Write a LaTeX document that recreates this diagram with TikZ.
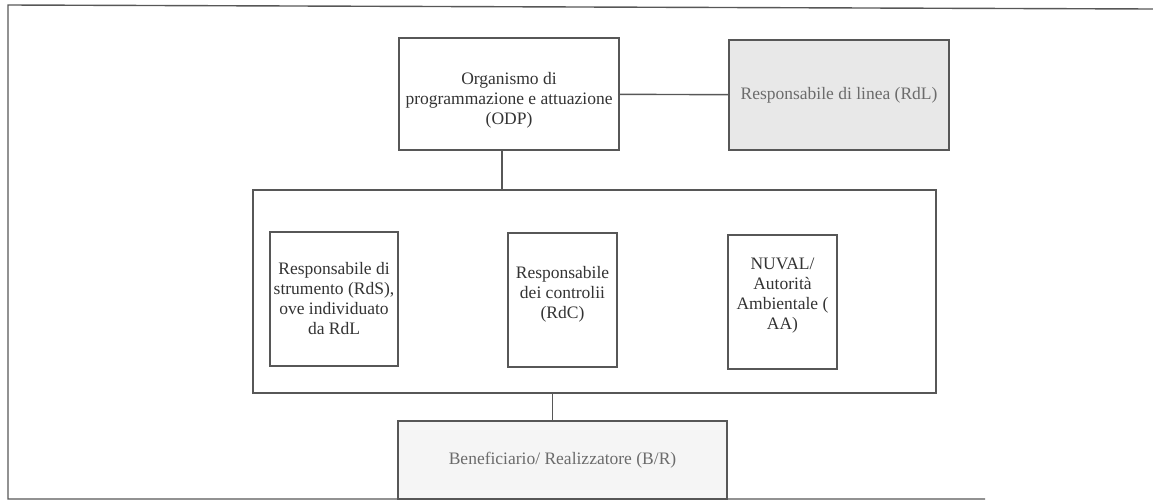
\documentclass[tikz,border=0pt]{standalone}
\usepackage{fontspec}
\setmainfont{Liberation Serif}
\begin{document}
\begin{tikzpicture}[x=1pt,y=-1pt,
  line/.style={draw=black!66, line width=1.4pt},
  unit/.style={line, rectangle, inner sep=2pt, align=center, text=black!80,
    font=\fontsize{17.5}{20}\selectfont},
  shaded/.style={unit, fill=black!9, text=black!58},
  pale/.style={unit, fill=black!4, text=black!58}]
\useasboundingbox (0,0) rectangle (1153,501);
% page frame (open on the right)
\draw[line] (1153,9) -- (8,5) -- (8,499) -- (985,499);

% top level
\node[unit, minimum width=220pt, minimum height=112pt] (odp) at (509,94)
  {{}\\[4pt]Organismo di\\programmazione e attuazione\\(ODP)};
\node[shaded, minimum width=220pt, minimum height=110pt] (rdl) at (839,95)
  {Responsabile di linea (RdL)};

% group of control bodies
\node[line, rectangle, minimum width=683pt, minimum height=203pt] (grp) at (594.5,291.5) {};
\node[unit, minimum width=128pt, minimum height=134pt] (rds) at (334,299)
  {Responsabile di\\strumento (RdS),\\ove individuato\\da RdL};
\node[unit, minimum width=109pt, minimum height=134pt] (rdc) at (562.5,300)
  {Responsabile\\dei controlii\\(RdC)\\[-4pt]{}};
\node[unit, minimum width=109pt, minimum height=134pt] (aa) at (782.5,302)
  {NUVAL/\\Autorità\\Ambientale (\\AA)\\[-4pt]{}};

% beneficiary
\node[pale, minimum width=329pt, minimum height=78pt] (br) at (562.5,460)
  {Beneficiario/ Realizzatore (B/R)};

% connectors
\draw[line] (odp) -- (rdl);
\draw[line] ([xshift=-7pt]odp.south) -- ([xshift=-7pt]odp.south |- grp.north);
\draw[line] ([xshift=-10pt]br.north) -- ([xshift=-10pt]br.north |- grp.south);
\end{tikzpicture}
\end{document}
